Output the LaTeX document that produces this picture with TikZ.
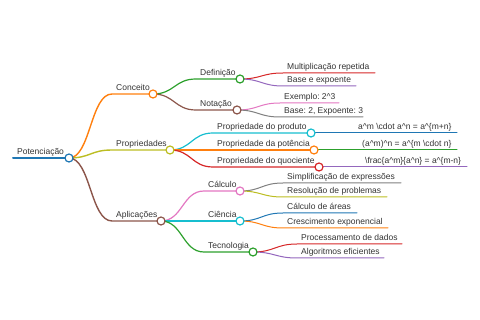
\documentclass[tikz,border=0pt]{standalone}
\usepackage{fontspec}
\setmainfont{Liberation Sans}
\usetikzlibrary{positioning, backgrounds}
\definecolor{mmblue}{HTML}{1F77B4}
\definecolor{mmorange}{HTML}{FF7F0E}
\definecolor{mmgreen}{HTML}{2CA02C}
\definecolor{mmred}{HTML}{D62728}
\definecolor{mmpurple}{HTML}{9467BD}
\definecolor{mmbrown}{HTML}{8C564B}
\definecolor{mmpink}{HTML}{E377C2}
\definecolor{mmgray}{HTML}{7F7F7F}
\definecolor{mmolive}{HTML}{BCBD22}
\definecolor{mmcyan}{HTML}{17BECF}
\definecolor{mmtext}{HTML}{333333}
\frenchspacing

\begin{document}
\begin{tikzpicture}[x=1pt, y=-1pt,
      lbl/.style={anchor=base west, inner sep=0pt, text=mmtext, font=\fontsize{8.5}{10}\selectfont},
      dot/.style={circle, draw=#1, fill=white, line width=1.2pt, minimum size=8pt, inner sep=0pt},
      mm/.style={to path={.. controls +(21.5,0) and +(-21.5,0) .. (\tikztotarget) \tikztonodes}},
      rootline/.style={line width=2pt, line cap=round},
      linkA/.style={line width=1.4pt, line cap=round},
      linkB/.style={line width=1.2pt, line cap=round},
      leaf/.style={line width=1pt, line cap=round},
    ]
    \useasboundingbox (0,0) rectangle (480,320);

    % root
    \coordinate (root-s) at (13,158);
    \node[lbl] (root-t) at (17,155) {Potenciação};
    \node[dot=mmblue] (root) at (69,158) {};

    % first level
    \coordinate (conc-s) at (112,94);
    \node[lbl] (conc-t) at (116,91) {Conceito};
    \node[dot=mmorange] (conc) at (153,94) {};
    \coordinate (prop-s) at (112,150);
    \node[lbl] (prop-t) at (116,147) {Propriedades};
    \node[dot=mmolive] (prop) at (170,150) {};
    \coordinate (apl-s) at (112,221);
    \node[lbl] (apl-t) at (116,218) {Aplicações};
    \node[dot=mmbrown] (apl) at (161,221) {};

    % second level
    \coordinate (def-s) at (196,79);
    \node[lbl] (def-t) at (200,76) {Definição};
    \node[dot=mmgreen] (def) at (240,79) {};
    \coordinate (not-s) at (196,110);
    \node[lbl] (not-t) at (200,107) {Notação};
    \node[dot=mmbrown] (not) at (237,110) {};
    \coordinate (pprod-s) at (213,133);
    \node[lbl] (pprod-t) at (217,130) {Propriedade do produto};
    \node[dot=mmcyan] (pprod) at (311,133) {};
    \coordinate (ppot-s) at (213,150);
    \node[lbl] (ppot-t) at (217,147) {Propriedade da potência};
    \node[dot=mmorange] (ppot) at (314,150) {};
    \coordinate (pquo-s) at (213,167);
    \node[lbl] (pquo-t) at (217,164) {Propriedade do quociente};
    \node[dot=mmred] (pquo) at (319,167) {};
    \coordinate (calc-s) at (204,191);
    \node[lbl] (calc-t) at (208,188) {Cálculo};
    \node[dot=mmpink] (calc) at (240,191) {};
    \coordinate (cien-s) at (204,221);
    \node[lbl] (cien-t) at (208,218) {Ciência};
    \node[dot=mmcyan] (cien) at (240,221) {};
    \coordinate (tec-s) at (204,252);
    \node[lbl] (tec-t) at (208,249) {Tecnologia};
    \node[dot=mmgreen] (tec) at (253,252) {};

    % leaves
    \coordinate (mult-s) at (283,73);  \coordinate (mult-e) at (375,73);
    \node[lbl] (mult) at (287,70) {Multiplicação repetida};
    \coordinate (bexp-s) at (283,86);  \coordinate (bexp-e) at (356,86);
    \node[lbl] (bexp) at (287,83) {Base e expoente};
    \coordinate (ex-s) at (280,103);   \coordinate (ex-e) at (339,103);
    \node[lbl] (ex) at (284,100) {Exemplo: 2\string^3};
    \coordinate (base-s) at (280,117); \coordinate (base-e) at (363,117);
    \node[lbl] (base) at (284,114) {Base: 2, Expoente: 3};
    \coordinate (fprod-s) at (354,133); \coordinate (fprod-e) at (457,133);
    \node[lbl] (fprod) at (358,130) {a\string^m \string\cdot{} a\string^n = a\string^\{m+n\}};
    \coordinate (fpot-s) at (357,150);  \coordinate (fpot-e) at (457,150);
    \node[lbl] (fpot) at (362,147) {(a\string^m)\string^n = a\string^\{m \string\cdot{} n\}};
    \coordinate (fquo-s) at (362,167);  \coordinate (fquo-e) at (467,167);
    \node[lbl] (fquo) at (365,164) {\string\frac\{a\string^m\}\{a\string^n\} = a\string^\{m-n\}};
    \coordinate (simp-s) at (283,183); \coordinate (simp-e) at (401,183);
    \node[lbl] (simp) at (287,180) {Simplificação de expressões};
    \coordinate (res-s) at (283,197);  \coordinate (res-e) at (387,197);
    \node[lbl] (res) at (287,194) {Resolução de problemas};
    \coordinate (area-s) at (283,213); \coordinate (area-e) at (357,213);
    \node[lbl] (area) at (287,210) {Cálculo de áreas};
    \coordinate (cres-s) at (283,228); \coordinate (cres-e) at (388,228);
    \node[lbl] (cres) at (287,225) {Crescimento exponencial};
    \coordinate (proc-s) at (297,244); \coordinate (proc-e) at (402,244);
    \node[lbl] (proc) at (301,241) {Processamento de dados};
    \coordinate (alg-s) at (297,258);  \coordinate (alg-e) at (384,258);
    \node[lbl] (alg) at (301,255) {Algoritmos eficientes};

    \begin{scope}[on background layer]
      \draw[rootline, mmblue] (root-s) -- (root.center);
      \draw[linkA, mmorange] (root.center) to[mm] (conc-s) -- (conc.center);
      \draw[linkA, mmolive] (root.center) to[mm] (prop-s) -- (prop.center);
      \draw[linkA, mmbrown] (root.center) to[mm] (apl-s) -- (apl.center);
      \draw[linkB, mmgreen] (conc.center) to[mm] (def-s) -- (def.center);
      \draw[linkB, mmbrown] (conc.center) to[mm] (not-s) -- (not.center);
      \draw[linkB, mmcyan] (prop.center) to[mm] (pprod-s) -- (pprod.center);
      \draw[linkB, mmorange] (prop.center) to[mm] (ppot-s) -- (ppot.center);
      \draw[linkB, mmred] (prop.center) to[mm] (pquo-s) -- (pquo.center);
      \draw[linkB, mmpink] (apl.center) to[mm] (calc-s) -- (calc.center);
      \draw[linkB, mmcyan] (apl.center) to[mm] (cien-s) -- (cien.center);
      \draw[linkB, mmgreen] (apl.center) to[mm] (tec-s) -- (tec.center);
      \draw[leaf, mmred] (def.center) to[mm] (mult-s) -- (mult-e);
      \draw[leaf, mmpurple] (def.center) to[mm] (bexp-s) -- (bexp-e);
      \draw[leaf, mmpink] (not.center) to[mm] (ex-s) -- (ex-e);
      \draw[leaf, mmgray] (not.center) to[mm] (base-s) -- (base-e);
      \draw[leaf, mmblue] (pprod.center) -- (fprod-e);
      \draw[leaf, mmgreen] (ppot.center) -- (fpot-e);
      \draw[leaf, mmpurple] (pquo.center) -- (fquo-e);
      \draw[leaf, mmgray] (calc.center) to[mm] (simp-s) -- (simp-e);
      \draw[leaf, mmolive] (calc.center) to[mm] (res-s) -- (res-e);
      \draw[leaf, mmblue] (cien.center) to[mm] (area-s) -- (area-e);
      \draw[leaf, mmorange] (cien.center) to[mm] (cres-s) -- (cres-e);
      \draw[leaf, mmred] (tec.center) to[mm] (proc-s) -- (proc-e);
      \draw[leaf, mmpurple] (tec.center) to[mm] (alg-s) -- (alg-e);
    \end{scope}
  \end{tikzpicture}
\end{document}
